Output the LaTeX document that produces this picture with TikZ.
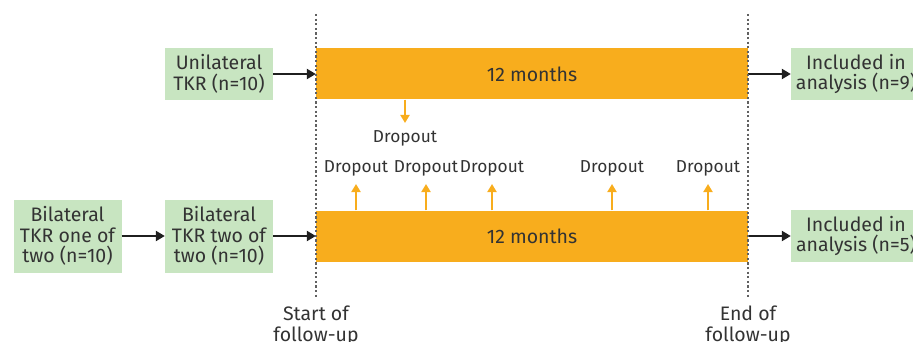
\documentclass[tikz,border=0pt]{standalone}
\usepackage{fontspec}
\setmainfont{Fira Sans}
\definecolor{bargold}{RGB}{248,173,29}
\definecolor{boxgreen}{RGB}{200,229,193}
\definecolor{txtgrey}{RGB}{51,51,51}
\usetikzlibrary{arrows.meta,positioning}

\begin{document}
\begin{tikzpicture}[x=1pt,y=-1pt,
  grp/.style={fill=boxgreen,minimum width=108pt,align=center,inner sep=0pt,font=\fontsize{19.5}{20.5}\selectfont,text=txtgrey},
  bar/.style={fill=bargold,minimum width=432pt,minimum height=51pt,inner sep=0pt,font=\fontsize{19.5}{20.5}\selectfont,text=txtgrey},
  lbl/.style={inner sep=0pt,font=\fontsize{17.3}{18}\selectfont,text=txtgrey},
  flow/.style={-{Triangle[length=9pt,width=10pt]},line width=2.2pt,black!88},
  drop/.style={-{Triangle[length=8pt,width=9pt]},line width=1.8pt,bargold},
  dotline/.style={line width=2.4pt,black!62,dash pattern=on 2.2pt off 2.4pt}]
  \clip (0,0) rectangle (913,342);
  % groups
  \node[grp,minimum height=52pt] (uni) at (219,74) {Unilateral\\TKR (n=10)};
  \node[grp,minimum height=73pt] (bione) at (67.5,236) {Bilateral\\TKR one of\\two (n=10)};
  \node[grp,minimum height=73pt] (bitwo) at (219,236) {Bilateral\\TKR two of\\two (n=10)};
  % follow-up bars
  \node[bar] (bartop) at (532,74) {12 months};
  \node[bar] (barbot) at (532,236) {12 months};
  \node[grp,minimum width=130pt,minimum height=52pt] (inctop) at (856,74) {Included in\\analysis (n=9)};
  \node[grp,minimum width=130pt,minimum height=52pt] (incbot) at (856,236) {Included in\\analysis (n=5)};
  \draw[flow] (uni) -- (bartop);
  \draw[flow] (bione) -- (bitwo);
  \draw[flow] (bitwo) -- (barbot);
  \draw[flow] (bartop) -- (inctop);
  \draw[flow] (barbot) -- (incbot);
  % dropouts
  \node[lbl] (d0) at (405,138) {Dropout};
  \draw[drop] (d0 |- bartop.south) -- ([yshift=7pt]d0.north);
  \foreach \x/\n in {356/1,426/2,492/3,612/4,708/5}{
    \node[lbl] (d\n) at (\x,168) {Dropout};
    \draw[drop] (d\n |- barbot.north) -- ([yshift=-8pt]d\n.south);
  }
  % follow-up limits
  \coordinate (s0) at (316,14);
  \coordinate (s1) at (316,297);
  \coordinate (e0) at (748,14);
  \coordinate (e1) at (748,297);
  \draw[dotline] (s0) -- (s1);
  \draw[dotline] (e0) -- (e1);
  \node[grp,fill=none,anchor=north] (start) at (316,306) {Start of\\follow-up};
  \node[grp,fill=none,anchor=north] (end) at (748,306) {End of\\follow-up};
\end{tikzpicture}
\end{document}
